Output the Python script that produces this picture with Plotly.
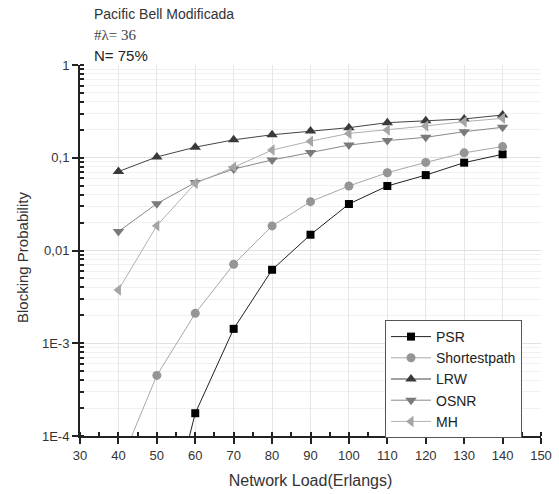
import plotly.graph_objects as go

# Network load (Erlangs)
load = [40, 50, 60, 70, 80, 90, 100, 110, 120, 130, 140]

# Blocking probability per routing algorithm
psr = [None, 4.0e-6, 1.76e-4, 1.43e-3, 6.2e-3, 0.0148, 0.0317, 0.0496, 0.065, 0.0885, 0.109]
shortestpath = [4.5e-5, 4.5e-4, 2.1e-3, 7.1e-3, 0.0184, 0.0336, 0.0496, 0.069, 0.089, 0.113, 0.132]
lrw = [0.071, 0.102, 0.130, 0.156, 0.177, 0.194, 0.211, 0.239, 0.251, 0.262, 0.289]
osnr = [0.016, 0.032, 0.054, 0.0756, 0.0946, 0.114, 0.137, 0.153, 0.166, 0.191, 0.213]
mh = [3.75e-3, 0.0185, 0.053, 0.0789, 0.121, 0.151, 0.183, 0.199, 0.22, 0.245, 0.266]

y_tick_vals = [1e-4, 1e-3, 1e-2, 1e-1, 1]
y_tick_text = ["1E-4", "1E-3", "0,01", "0,1", "1"]
x_tick_vals = [30, 40, 50, 60, 70, 80, 90, 100, 110, 120, 130, 140, 150]

series = [
    ("PSR", psr, "square", "#000000", "#222222", 8),
    ("Shortestpath", shortestpath, "circle", "#959595", "#a8a8a8", 9),
    ("LRW", lrw, "triangle-up", "#3a3a3a", "#444444", 10),
    ("OSNR", osnr, "triangle-down", "#7a7a7a", "#888888", 10),
    ("MH", mh, "triangle-left", "#a5a5a5", "#b0b0b0", 10),
]

fig = go.Figure()
for name, vals, sym, mcol, lcol, size in series:
    fig.add_trace(go.Scatter(
        x=load, y=vals, name=name, mode="lines+markers",
        line=dict(color=lcol, width=1),
        marker=dict(symbol=sym, size=size, color=mcol),
        connectgaps=False,
    ))

font_main = "Liberation Sans, Arial, sans-serif"

# plot area: 80..541 px horizontally, 65..436 px vertically
left_px, right_px = 80, 541
top_px, bottom_px = 65, 436
plot_w = right_px - left_px
plot_h = bottom_px - top_px


def paper_x(px):
    return (px - left_px) / plot_w


def paper_y(py):
    return (bottom_px - py) / plot_h


fig.update_layout(
    width=559, height=494,
    margin=dict(l=left_px, r=559 - right_px, t=top_px, b=494 - bottom_px),
    plot_bgcolor="white", paper_bgcolor="white",
    font=dict(family=font_main, size=13, color="#333333"),
    showlegend=True,
    legend=dict(
        x=paper_x(385), y=paper_y(320), xanchor="left", yanchor="top",
        bordercolor="#555555", borderwidth=1, bgcolor="white",
        font=dict(size=14, color="#222222"),
        tracegroupgap=0, itemwidth=40, entrywidth=108,
    ),
    xaxis=dict(
        range=[30, 150], tickvals=x_tick_vals, automargin=False,
        showline=True, linecolor="#222222", linewidth=2,
        ticks="outside", ticklen=6, tickcolor="#222222", tickwidth=1.5,
        showgrid=True, gridcolor="#e6e6e6", gridwidth=1,
        zeroline=False,
        minor=dict(dtick=5, ticks="inside", ticklen=4, tickcolor="#222222", showgrid=False),
        title=dict(text="Network Load(Erlangs)", font=dict(size=16, color="#333333"), standoff=13),
        tickfont=dict(size=13, color="#333333"),
    ),
    yaxis=dict(
        type="log", range=[-4, 0], automargin=False,
        tickmode="array", tickvals=y_tick_vals, ticktext=y_tick_text,
        showline=True, linecolor="#222222", linewidth=2,
        ticks="outside", ticklen=6, tickcolor="#222222", tickwidth=1.5,
        showgrid=True, gridcolor="#e2e2e2", gridwidth=1,
        zeroline=False,
        minor=dict(dtick="D1", ticks="inside", ticklen=4, tickcolor="#222222",
                   showgrid=True, gridcolor="#f0f0f0"),
        tickfont=dict(size=13, color="#333333"),
    ),
    annotations=[
        dict(text="Blocking Probability", xref="paper", yref="paper",
             x=paper_x(22), y=paper_y(257), xanchor="center", yanchor="middle",
             textangle=-90, showarrow=False, font=dict(size=15, color="#333333")),
        dict(text="Pacific Bell Modificada", xref="paper", yref="paper",
             x=paper_x(92), y=paper_y(14), xanchor="left", yanchor="middle",
             showarrow=False, font=dict(size=14, color="#333333")),
        dict(text="#λ= 36", xref="paper", yref="paper",
             x=paper_x(92), y=paper_y(35), xanchor="left", yanchor="middle",
             showarrow=False, font=dict(family="Liberation Serif, Times New Roman, serif",
                                        size=15, color="#444444")),
        dict(text="N= 75%", xref="paper", yref="paper",
             x=paper_x(92), y=paper_y(56), xanchor="left", yanchor="middle",
             showarrow=False, font=dict(size=15, color="#222222")),
    ],
)

fig.write_html("out.html")
